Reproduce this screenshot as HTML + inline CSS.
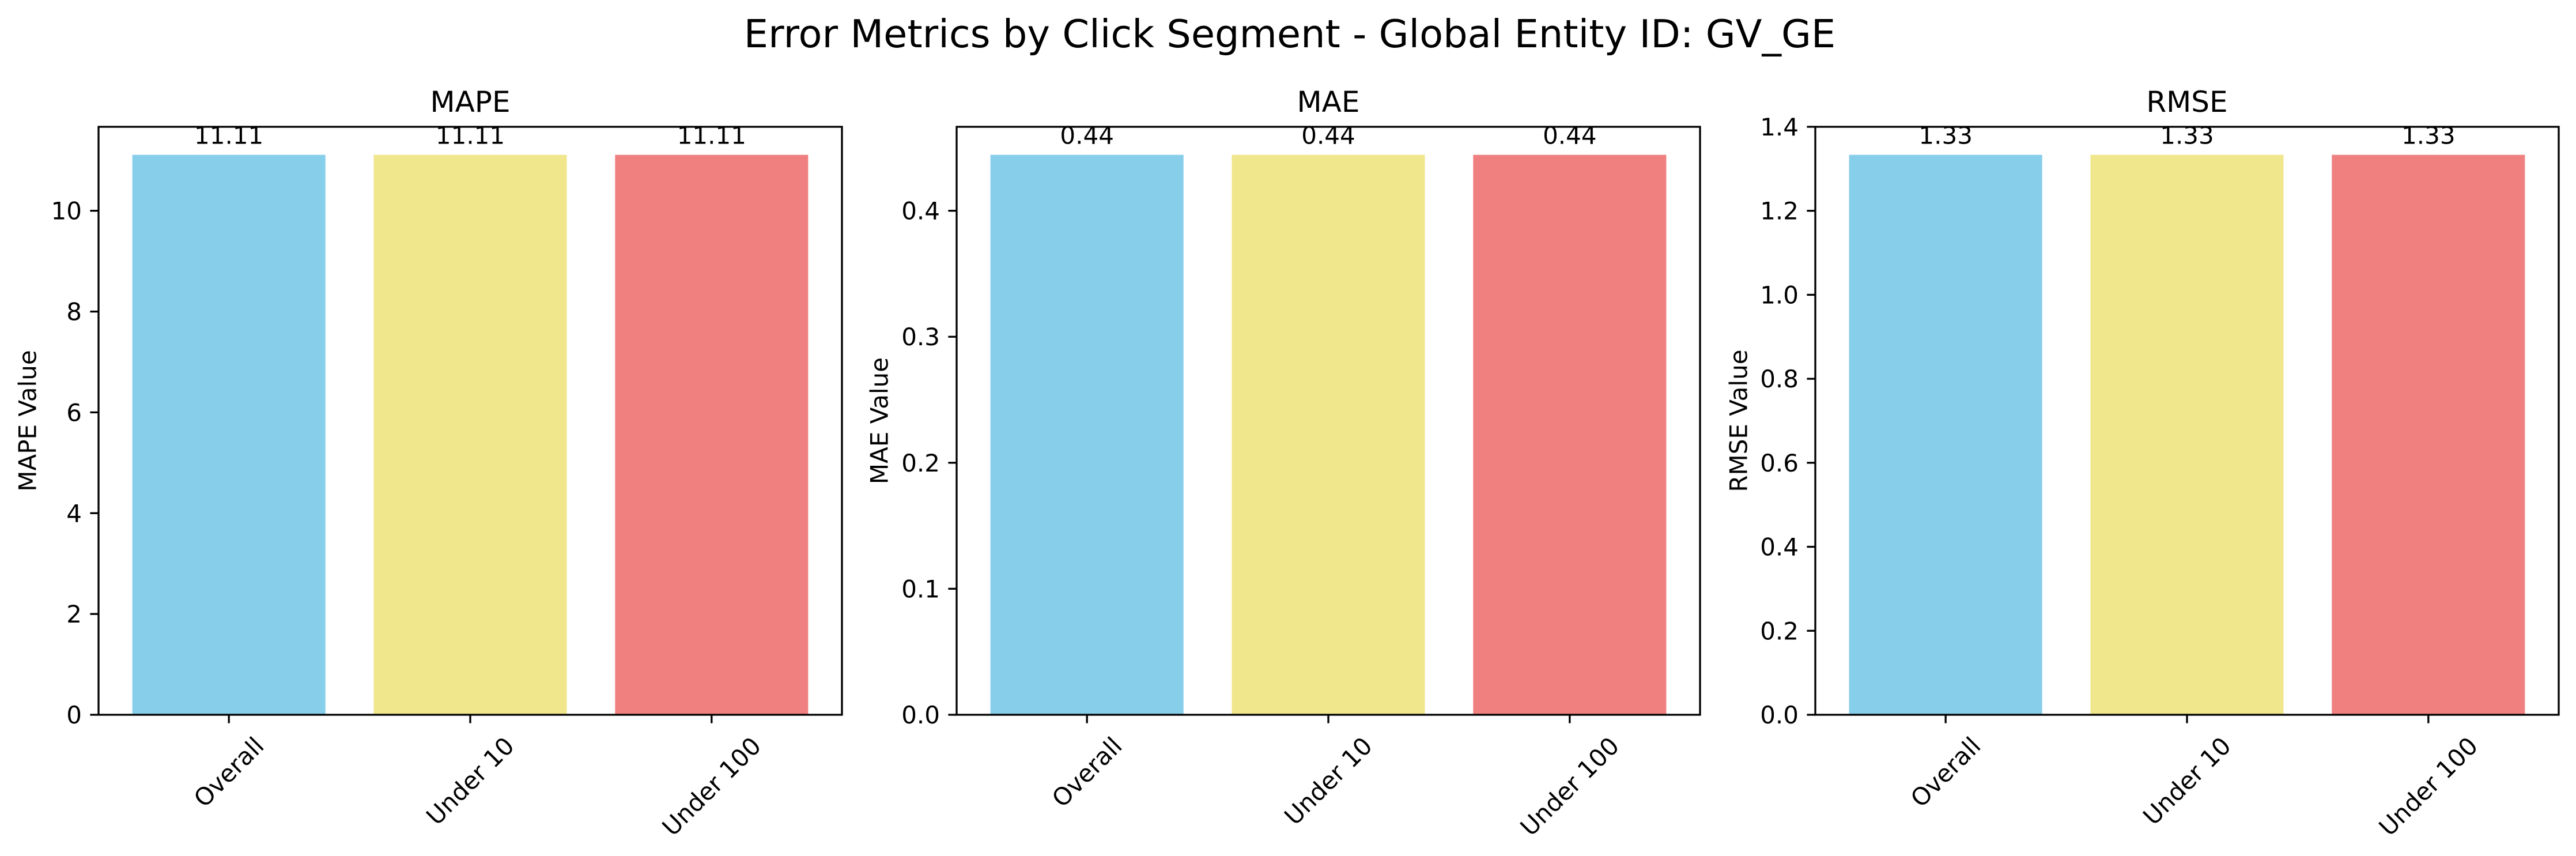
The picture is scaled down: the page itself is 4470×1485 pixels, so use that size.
<!DOCTYPE html>
<html><head><meta charset="utf-8"><style>
html,body{margin:0;padding:0;background:#fff;}
svg{display:block;font-family:"DejaVu Sans","Liberation Sans",sans-serif;}
</style></head><body>
<svg id="fig" width="4470" height="1485" viewBox="0 0 4470 1485" xmlns="http://www.w3.org/2000/svg">
<rect width="4470" height="1485" fill="#fff"/>
<text x="2238" y="82" font-size="67" text-anchor="middle" fill="#000">Error Metrics by Click Segment - Global Entity ID: GV_GE</text>
</svg>
<script>
const categories = ["Overall", "Under 10", "Under 100"];
const mapeValues = [11.11, 11.11, 11.11];
const maeValues = [0.4444, 0.4444, 0.4444];
const rmseValues = [1.3333, 1.3333, 1.3333];
const mapeLabels = ["11.11", "11.11", "11.11"];
const maeLabels = ["0.44", "0.44", "0.44"];
const rmseLabels = ["1.33", "1.33", "1.33"];
const mapeTicks = [0, 2, 4, 6, 8, 10];
const maeTicks = [0.0, 0.1, 0.2, 0.3, 0.4];
const rmseTicks = [0.0, 0.2, 0.4, 0.6, 0.8, 1.0, 1.2, 1.4];
const barColors = ["#87ceeb", "#f0e68c", "#f08080"];

const NS = "http://www.w3.org/2000/svg";
const svg = document.getElementById("fig");
function mk(tag, attrs, parent) {
  const e = document.createElementNS(NS, tag);
  for (const k in attrs) e.setAttribute(k, attrs[k]);
  (parent || svg).appendChild(e);
  return e;
}
const panels = [
  {key: "mape", title: "MAPE", ylabel: "MAPE Value", vals: mapeValues, labels: mapeLabels, ticks: mapeTicks, dec: 0, left: 171, ylx: 48},
  {key: "mae", title: "MAE", ylabel: "MAE Value", vals: maeValues, labels: maeLabels, ticks: maeTicks, dec: 1, left: 1660, ylx: 1526},
  {key: "rmse", title: "RMSE", ylabel: "RMSE Value", vals: rmseValues, labels: rmseLabels, ticks: rmseTicks, dec: 1, left: 3150, ylx: 3017}
];
const W = 1290, TOP = 220, BOT = 1240, H = BOT - TOP;
panels.forEach(p => {
  const g = mk("g", {});
  
  
  const ymax = Math.max(...p.vals) * 1.05;
  const y = v => BOT - v / ymax * H;
  const x0 = -0.54, x1 = 2.54;
  const x = v => p.left + (v - x0) / (x1 - x0) * W;
  p.vals.forEach((v, i) => {
    const r = mk("rect", {x: x(i - 0.4), y: y(v), width: x(i + 0.4) - x(i - 0.4), height: BOT - y(v), fill: barColors[i]}, g);
    
    
    const t = mk("text", {x: x(i), y: y(v) - 19, "font-size": 42, "text-anchor": "middle", fill: "#000"}, g);
    t.textContent = p.labels[i];
    
    
  });
  const fr = mk("rect", {x: p.left, y: TOP, width: W, height: H, fill: "none", stroke: "#000", "stroke-width": 3.3}, g);
  
  
  p.ticks.forEach(tv => {
    const yy = y(tv);
    mk("line", {x1: p.left - 14.6, x2: p.left, y1: yy, y2: yy, stroke: "#000", "stroke-width": 3.3}, g);
    const t = mk("text", {x: p.left - 29, y: yy + 15, "font-size": 42, "text-anchor": "end", fill: "#000"}, g);
    t.textContent = tv.toFixed(p.dec);
    
    
  });
  categories.forEach((c, i) => {
    const xx = x(i);
    mk("line", {x1: xx, x2: xx, y1: BOT, y2: BOT + 14.6, stroke: "#000", "stroke-width": 3.3}, g);
    const t = mk("text", {x: 0, y: 0, "font-size": 42, "text-anchor": "middle", "dominant-baseline": "central", fill: "#000"}, g);
    t.textContent = c;
    const w = t.getComputedTextLength();
    const bh = (w + 49) * Math.SQRT1_2;
    const cy = BOT + 14.6 + 14.6 + bh / 2;
    t.setAttribute("transform", "translate(" + xx + "," + cy + ") rotate(-45)");
    
    
  });
  const tt = mk("text", {x: p.left + W / 2, y: 194, "font-size": 50, "text-anchor": "middle", fill: "#000"}, g);
  tt.textContent = p.title;
  
  
  const yl = mk("text", {x: 0, y: 0, "font-size": 42, "text-anchor": "middle", "dominant-baseline": "central", fill: "#000", transform: "translate(" + p.ylx + "," + (TOP + H / 2) + ") rotate(-90)"}, g);
  yl.textContent = p.ylabel;
  
  
});
</script>
</body></html>
